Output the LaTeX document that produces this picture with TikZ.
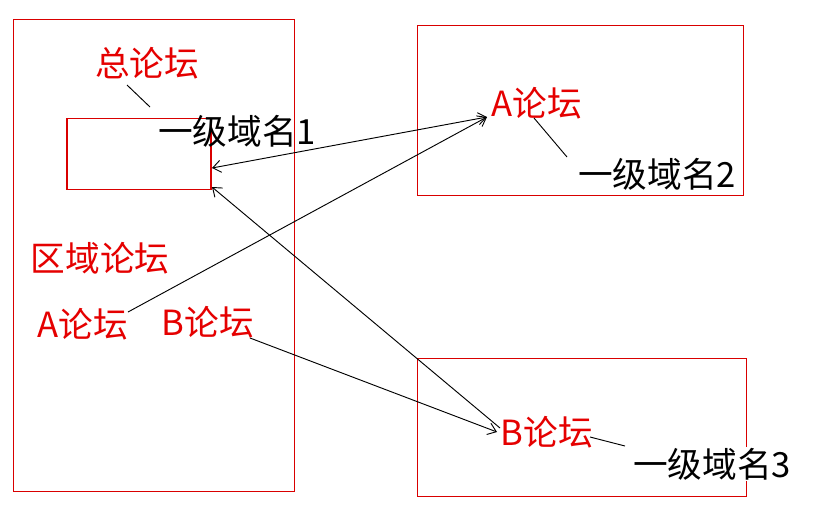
\documentclass[tikz,border=0pt]{standalone}
\usepackage{fontspec}
\setmainfont{Noto Sans CJK SC}
\usetikzlibrary{arrows.meta}
\begin{document}
\begin{tikzpicture}[x=0.75pt,y=-0.75pt,
  box/.style={draw=red!85!black,line width=0.6pt},
  rl/.style={text=red!90!black,font=\fontsize{26}{30}\selectfont,inner sep=1pt},
  bl/.style={text=black,font=\fontsize{26}{30}\selectfont,inner sep=1pt,fill=white},
  con/.style={draw=black,line width=0.7pt},
  tip/.style={-{Straight Barb[length=6pt,width=9pt]}}]
\useasboundingbox (0,0) rectangle (817,515);
\fill[white] (0,0) rectangle (817,515);
\draw[box] (13,19) rectangle (294,491);
\draw[box] (417,25) rectangle (743,195);
\draw[box] (417,358) rectangle (746,496);
\node[box,line width=1pt,minimum width=108pt,minimum height=53pt,inner sep=0pt] (small) at (139,154) {};
\node[rl] (zong) at (147,63) {总论坛};
\coordinate (z1) at (127,85); \coordinate (z2) at (150,107);
\draw[con] (z1) -- (z2);
\node[bl,fill=none] (d1) at (237,131) {一级域名1};
\node[rl] (qy) at (100,258) {区域论坛};
\node[rl] (la) at (83,324) {A论坛};
\node[rl] (lb) at (208,322) {B论坛};
\node[rl] (ra) at (537,103) {A论坛};
\node[bl] (d2) at (657,174) {一级域名2};
\node[rl] (rb) at (547,432) {B论坛};
\node[bl] (d3) at (712,464) {一级域名3};
\coordinate (ra1) at (534,118); \coordinate (ra2) at (567,157);
\draw[con] (ra1) -- (ra2);
\coordinate (rb1) at (590,437); \coordinate (rb2) at (625,446);
\draw[con] (rb1) -- (rb2);
\coordinate (s1) at (212,168); \coordinate (s2) at (212,187);
\coordinate (at) at (487,117);
\coordinate (btop) at (500,428);
\coordinate (bl1) at (497,432);
\coordinate (la1) at (128,312);
\coordinate (lb1) at (250,338);
\draw[con,{Straight Barb[length=6pt,width=9pt]}-{Straight Barb[length=6pt,width=9pt]}] (s1) -- (at);
\draw[con,tip] (la1) -- (at);
\draw[con,{Straight Barb[length=6pt,width=9pt]}-] (s2) -- (btop);
\draw[con,tip] (lb1) -- (bl1);
\end{tikzpicture}
\end{document}
